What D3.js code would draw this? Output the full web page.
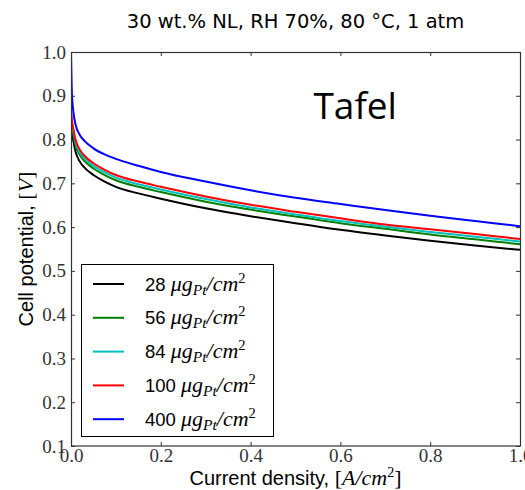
<!DOCTYPE html>
<html>
<head>
<meta charset="utf-8">
<script src="https://cdn.jsdelivr.net/npm/d3@7"></script>
<style>
  body { margin: 0; background: #fff; }
  svg { display: block; }
</style>
</head>
<body>
<div id="chart"></div>
<script>
// current density samples, A/cm2
const CURRENT = [0, 0.002, 0.005, 0.01, 0.02, 0.03, 0.05, 0.075, 0.1, 0.15, 0.2, 0.3, 0.4, 0.5, 0.6, 0.7, 0.8, 0.9, 1.0];

// cell potential, V
const V_28  = [0.830, 0.818, 0.799, 0.773, 0.749, 0.736, 0.719, 0.704, 0.692, 0.677, 0.665, 0.643, 0.625, 0.609, 0.594, 0.581, 0.569, 0.558, 0.548];
const V_56  = [0.845, 0.833, 0.814, 0.788, 0.764, 0.751, 0.734, 0.719, 0.707, 0.692, 0.680, 0.658, 0.640, 0.624, 0.609, 0.596, 0.583, 0.572, 0.561];
const V_84  = [0.855, 0.839, 0.820, 0.794, 0.770, 0.757, 0.740, 0.725, 0.713, 0.698, 0.686, 0.664, 0.645, 0.629, 0.614, 0.601, 0.589, 0.578, 0.567];
const V_100 = [0.872, 0.845, 0.826, 0.800, 0.776, 0.763, 0.746, 0.731, 0.719, 0.704, 0.692, 0.670, 0.651, 0.635, 0.620, 0.606, 0.595, 0.584, 0.573];
const V_400 = [1.000, 0.905, 0.866, 0.835, 0.810, 0.797, 0.780, 0.766, 0.756, 0.740, 0.726, 0.704, 0.684, 0.667, 0.653, 0.639, 0.626, 0.614, 0.602];

const LOADINGS = ["28", "56", "84", "100", "400"];
const SERIES = [V_28, V_56, V_84, V_100, V_400];
const COLORS = ["#000000", "#008000", "#00bfbf", "#ff0000", "#0000ff"];

const X_TICKS = [0, 0.2, 0.4, 0.6, 0.8, 1.0];
const Y_TICKS = [0.1, 0.2, 0.3, 0.4, 0.5, 0.6, 0.7, 0.8, 0.9, 1.0];

const TITLE = "30 wt.% NL, RH 70%, 80 \u00B0C, 1 atm";

const WIDTH = 525, HEIGHT = 490;
const margin = { top: 52, right: 5, bottom: 44, left: 71 };
const plotW = WIDTH - margin.left - margin.right;
const plotH = HEIGHT - margin.top - margin.bottom;

const SANS = "'Liberation Sans', Arial, sans-serif";
const SERIF = "'Liberation Serif', 'DejaVu Serif', serif";

const x = d3.scaleLinear().domain([0, 1]).range([0, plotW]);
const y = d3.scaleLinear().domain([0.1, 1.0]).range([plotH, 0]);

const svg = d3.select("#chart").append("svg")
  .attr("width", WIDTH)
  .attr("height", HEIGHT);

svg.append("defs").append("clipPath").attr("id", "clip")
  .append("rect").attr("width", plotW).attr("height", plotH);

const g = svg.append("g")
  .attr("transform", `translate(${margin.left},${margin.top})`);

// curves
const line = d3.line()
  .x(d => x(d[0]))
  .y(d => y(d[1]))
  .curve(d3.curveMonotoneX);

g.append("g").attr("clip-path", "url(#clip)")
  .selectAll("path")
  .data(SERIES)
  .join("path")
  .attr("d", s => line(CURRENT.map((c, i) => [c, s[i]])))
  .attr("fill", "none")
  .attr("stroke", (d, i) => COLORS[i])
  .attr("stroke-width", 2);

// ticks inward on all four sides
const TICK = 4;
const tickStyle = sel => sel.call(s => s.select(".domain").remove())
  .call(s => s.selectAll(".tick line").attr("stroke", "#333"))
  .call(s => s.selectAll(".tick text")
    .attr("font-family", SERIF).attr("font-size", 19).attr("fill", "#333"));

g.append("g").attr("transform", `translate(0,${plotH})`)
  .call(d3.axisBottom(x).tickValues(X_TICKS).tickFormat(d3.format(".1f"))
    .tickSizeInner(-TICK).tickSizeOuter(0).tickPadding(2))
  .call(tickStyle);
g.append("g")
  .call(d3.axisTop(x).tickValues(X_TICKS).tickFormat("")
    .tickSizeInner(-TICK).tickSizeOuter(0))
  .call(tickStyle);
g.append("g")
  .call(d3.axisLeft(y).tickValues(Y_TICKS).tickFormat(d3.format(".1f"))
    .tickSizeInner(-TICK).tickSizeOuter(0).tickPadding(5))
  .call(tickStyle);
g.append("g").attr("transform", `translate(${plotW},0)`)
  .call(d3.axisRight(y).tickValues(Y_TICKS).tickFormat("")
    .tickSizeInner(-TICK).tickSizeOuter(0))
  .call(tickStyle);

// frame
g.append("rect")
  .attr("x", 0.5).attr("y", 0.5)
  .attr("width", plotW).attr("height", plotH - 0.5)
  .attr("fill", "none").attr("stroke", "#333").attr("stroke-width", 1.2);

// Tafel label
g.append("text")
  .attr("x", x(0.54)).attr("y", 67)
  .attr("font-family", "'Open Sans', 'Noto Sans', sans-serif")
  .attr("font-size", 37)
  .attr("fill", "#000")
  .text("Tafel");

// legend
const legend = g.append("g").attr("transform", "translate(10,212)");
legend.append("rect")
  .attr("x", 0.5).attr("y", 0.5)
  .attr("width", 192).attr("height", 172)
  .attr("fill", "#fff").attr("stroke", "#000").attr("stroke-width", 1);

const rows = legend.selectAll("g.row")
  .data(LOADINGS)
  .join("g")
  .attr("class", "row")
  .attr("transform", (d, i) => `translate(0,${20 + i * 33.8})`);

rows.append("line")
  .attr("x1", 12).attr("x2", 43)
  .attr("stroke", (d, i) => COLORS[i])
  .attr("stroke-width", 2);

const label = rows.append("text")
  .attr("x", 64).attr("y", 6.5)
  .attr("fill", "#000");
label.append("tspan").attr("font-family", SANS).attr("font-size", 18.5).text(d => d + " ");
label.append("tspan").attr("font-family", SERIF).attr("font-style", "italic")
  .attr("font-size", 22).text("\u03BCg");
label.append("tspan").attr("font-family", SERIF).attr("font-style", "italic")
  .attr("font-size", 15.5).attr("dy", 4).text("Pt");
label.append("tspan").attr("font-family", SERIF).attr("font-style", "italic")
  .attr("font-size", 22).attr("dy", -4).text("/cm");
label.append("tspan").attr("font-family", SERIF)
  .attr("font-size", 14.5).attr("dy", -8).text("2");

// title
svg.append("text")
  .attr("x", margin.left + plotW / 2).attr("y", 28)
  .attr("text-anchor", "middle")
  .attr("font-family", "'DejaVu Sans', sans-serif").attr("font-size", 19.5).attr("fill", "#000")
  .text(TITLE);

// x axis label
const xl = svg.append("text")
  .attr("x", margin.left + plotW / 2).attr("y", 485)
  .attr("text-anchor", "middle")
  .attr("fill", "#000");
xl.append("tspan").attr("font-family", SANS).attr("font-size", 20).text("Current density, ");
xl.append("tspan").attr("font-family", SERIF).attr("font-size", 22).text("[");
xl.append("tspan").attr("font-family", SERIF).attr("font-size", 22).attr("font-style", "italic").text("A/cm");
xl.append("tspan").attr("font-family", SERIF).attr("font-size", 14).attr("dy", -8).text("2");
xl.append("tspan").attr("font-family", SERIF).attr("font-size", 22).attr("dy", 8).text("]");

// y axis label
const yl = svg.append("text")
  .attr("transform", `translate(33,${margin.top + plotH / 2}) rotate(-90)`)
  .attr("text-anchor", "middle")
  .attr("fill", "#000");
yl.append("tspan").attr("font-family", SANS).attr("font-size", 20).text("Cell potential, ");
yl.append("tspan").attr("font-family", SERIF).attr("font-size", 22).text("[");
yl.append("tspan").attr("font-family", SERIF).attr("font-size", 22).attr("font-style", "italic").text("V");
yl.append("tspan").attr("font-family", SERIF).attr("font-size", 22).text("]");
</script>
</body>
</html>
